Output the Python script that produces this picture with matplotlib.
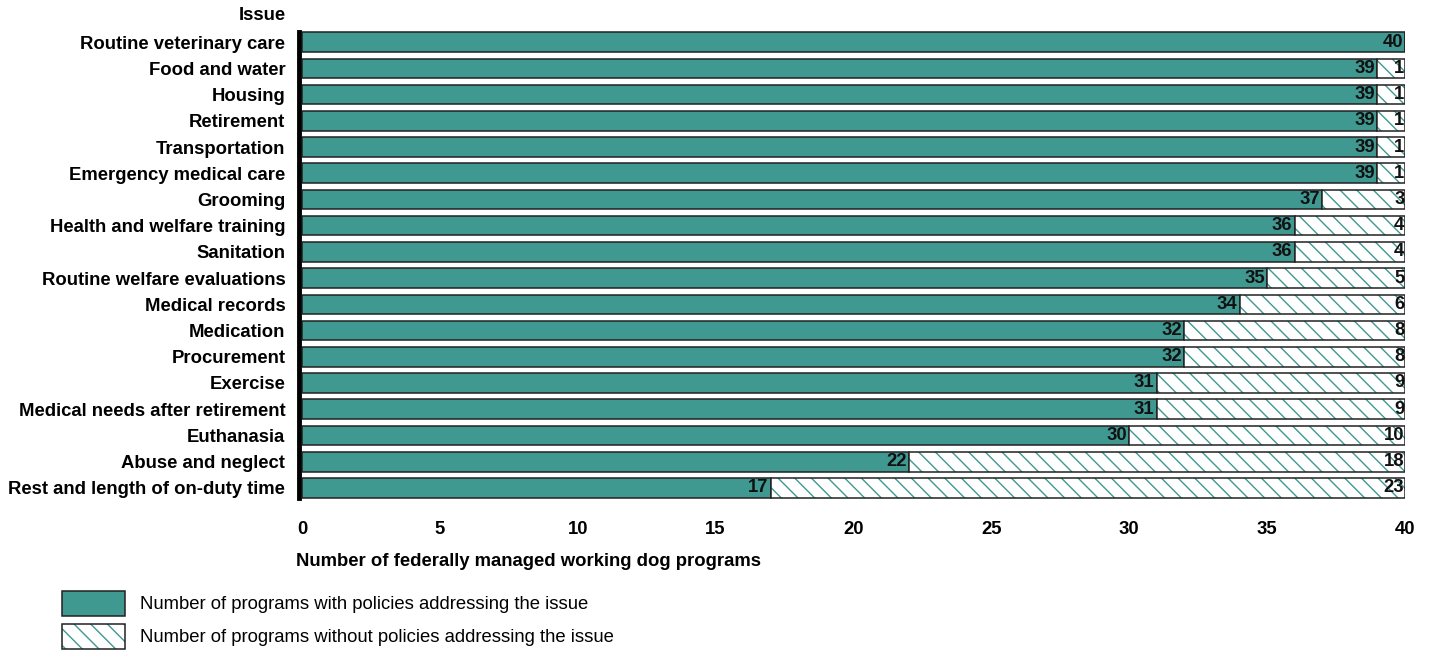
import matplotlib
matplotlib.use("Agg")
import matplotlib.pyplot as plt
from matplotlib.patches import Patch
from matplotlib.legend_handler import HandlerTuple

plt.rcParams['font.family'] = ['Liberation Sans', 'DejaVu Sans']

# Data
issues = [
    "Routine veterinary care", "Food and water", "Housing", "Retirement",
    "Transportation", "Emergency medical care", "Grooming",
    "Health and welfare training", "Sanitation", "Routine welfare evaluations",
    "Medical records", "Medication", "Procurement", "Exercise",
    "Medical needs after retirement", "Euthanasia", "Abuse and neglect",
    "Rest and length of on-duty time",
]
with_policy = [40, 39, 39, 39, 39, 39, 37, 36, 36, 35, 34, 32, 32, 31, 31, 30, 22, 17]
without_policy = [0, 1, 1, 1, 1, 1, 3, 4, 4, 5, 6, 8, 8, 9, 9, 10, 18, 23]
xticks = [0, 5, 10, 15, 20, 25, 30, 35, 40]

teal = '#3f9990'
fs = 13.3

fig = plt.figure(figsize=(14.31, 6.64), dpi=100)
ax = fig.add_axes([302 / 1431, 1 - 501 / 664, (1405 - 302) / 1431, (501 - 29) / 664])

# spines first: moving a spine resets the tick labels
for s in ['top', 'right', 'bottom']:
    ax.spines[s].set_visible(False)
ax.spines['left'].set_position(('outward', 2))
ax.spines['left'].set_linewidth(3.5)

y = list(range(len(issues)))
h = 0.75
ax.barh(y, with_policy, height=h, color=teal, edgecolor='#222222', linewidth=1.1)
ax.barh(y, without_policy, left=with_policy, height=h, color='white',
        edgecolor=teal, hatch='\\\\', linewidth=0)
ax.barh(y, without_policy, left=with_policy, height=h, fill=False,
        edgecolor='#222222', linewidth=1.1)

for yi, a, b in zip(y, with_policy, without_policy):
    if a > 0:
        ax.text(a - 0.08, yi, str(a), ha='right', va='center',
                fontsize=fs, fontweight='bold', color='#111111')
    if b > 0:
        ax.text(40 - 0.02, yi, str(b), ha='right', va='center',
                fontsize=fs, fontweight='bold', color='#111111')

ax.set_xlim(0, 40)
ax.set_ylim(len(issues) - 0.5, -0.5)
ax.spines['left'].set_bounds(-0.38, len(issues) - 0.62)
ax.tick_params(axis='y', length=0, pad=10)
ax.tick_params(axis='x', length=0, pad=14.5)
ax.set_yticks(y)
ax.set_yticklabels(issues, fontsize=fs, fontweight='bold')
ax.set_xticks(xticks)
ax.set_xticklabels([str(t) for t in xticks], fontsize=fs, fontweight='bold')

fig.text(286 / 1431, 1 - 15 / 664, "Issue", ha='right', va='center',
         fontsize=fs, fontweight='bold')
fig.text(296 / 1431, 1 - 562 / 664, "Number of federally managed working dog programs",
         ha='left', va='center', fontsize=fs, fontweight='bold')

h_with = Patch(facecolor=teal, edgecolor='#222222', linewidth=1.1)
h_hatch = Patch(facecolor='white', edgecolor=teal, hatch='\\\\', linewidth=0)
h_edge = Patch(fill=False, edgecolor='#222222', linewidth=1.1)
fig.legend([h_with, (h_hatch, h_edge)],
           ["Number of programs with policies addressing the issue",
            "Number of programs without policies addressing the issue"],
           handler_map={tuple: HandlerTuple(ndivide=1, pad=0)},
           loc='upper left', bbox_to_anchor=(62 / 1431, 1 - 591 / 664),
           frameon=False, fontsize=fs, borderpad=0, borderaxespad=0,
           handlelength=3.4, handleheight=1.68, handletextpad=0.8, labelspacing=0.45)

fig.savefig('out.png', dpi=100)
